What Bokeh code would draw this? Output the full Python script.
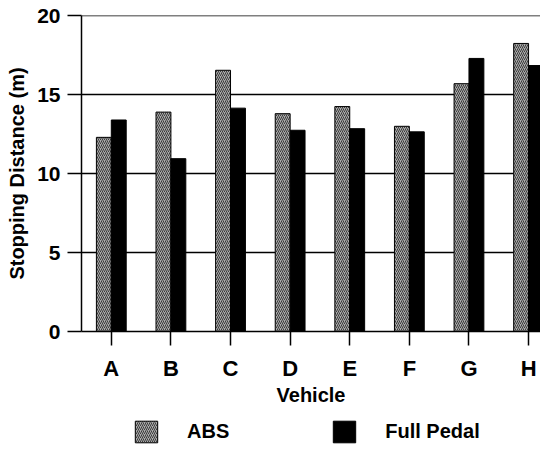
from bokeh.plotting import figure
from bokeh.layouts import column
from bokeh.models import Range1d, FixedTicker, Legend, LegendItem
from bokeh.embed import file_html
from bokeh.resources import INLINE

vehicles = ["A", "B", "C", "D", "E", "F", "G", "H"]
abs_vals = [12.3, 13.9, 16.55, 13.8, 14.25, 13.0, 15.7, 18.25]
full_vals = [13.4, 10.95, 14.15, 12.75, 12.85, 12.65, 17.3, 16.85]
y_ticks = [0, 5, 10, 15, 20]
series_names = ["ABS", "Full Pedal"]

FONT = "Liberation Sans"
ABS_STYLE = dict(fill_color="#ababab", hatch_pattern="right_diagonal_line",
                 hatch_color="#3a3a3a", hatch_scale=4, hatch_weight=1,
                 line_color="black", line_width=1)
FULL_STYLE = dict(fill_color="black", line_color="black", line_width=1)

centers = [i + 0.5 for i in range(len(vehicles))]
abs_x = [c - 0.125 for c in centers]
full_x = [c + 0.125 for c in centers]

W = 540
H_MAIN = 410
LEFT = 81
p = figure(width=W, height=H_MAIN, output_backend="svg", toolbar_location=None,
           x_range=Range1d(0, 7.70), y_range=Range1d(0, 20.02),
           min_border_left=LEFT, min_border_right=0, min_border_top=15,
           min_border_bottom=H_MAIN - 331, outline_line_color=None,
           background_fill_color="white", border_fill_color="white")

p.vbar(x=abs_x, top=abs_vals, width=0.25, bottom=0, **ABS_STYLE)
p.vbar(x=full_x, top=full_vals, width=0.25, bottom=0, **FULL_STYLE)

# axes
p.xaxis.ticker = FixedTicker(ticks=centers)
p.xaxis.major_label_overrides = {c: v for c, v in zip(centers, vehicles)}
p.yaxis.ticker = FixedTicker(ticks=y_ticks)
p.xaxis.axis_label = "Vehicle"
p.yaxis.axis_label = "Stopping Distance (m)"

for ax in (p.xaxis, p.yaxis):
    ax.axis_line_color = "black"
    ax.axis_line_width = 1.5
    ax.major_tick_line_color = "black"
    ax.major_tick_line_width = 1.5
    ax.major_tick_out = 14
    ax.major_tick_in = 0
    ax.minor_tick_line_color = None
    ax.major_label_text_font = FONT
    ax.major_label_text_font_style = "bold"
    ax.major_label_text_color = "black"
    ax.axis_label_text_font = FONT
    ax.axis_label_text_font_style = "bold"
    ax.axis_label_text_color = "black"

p.xaxis.major_label_text_font_size = "22px"
p.xaxis.major_label_standoff = 10
p.xaxis.axis_label_text_font_size = "20px"
p.xaxis.axis_label_standoff = 0
p.yaxis.major_label_text_font_size = "21px"
p.yaxis.major_label_standoff = 7
p.yaxis.axis_label_text_font_size = "20px"
p.yaxis.axis_label_standoff = 6

p.xgrid.grid_line_color = None
p.ygrid.ticker = FixedTicker(ticks=y_ticks[1:])
p.ygrid.grid_line_color = "black"
p.ygrid.grid_line_width = 1.5

# legend strip below the chart
H_LEG = 447 - H_MAIN
pl = figure(width=W, height=H_LEG, output_backend="svg", toolbar_location=None,
            x_range=Range1d(0, 1), y_range=Range1d(0, 1),
            x_axis_type=None, y_axis_type=None,
            min_border_left=LEFT, min_border_right=0, min_border_top=0,
            min_border_bottom=0,
            outline_line_color=None, background_fill_color="white",
            border_fill_color="white")
pl.grid.grid_line_color = None
# dummy bars placed outside the visible range: only give the legend its swatches
r_abs = pl.vbar(x=[0.5], bottom=[-6], top=[-5], width=0.1, **ABS_STYLE)
r_full = pl.vbar(x=[0.5], bottom=[-6], top=[-5], width=0.1, **FULL_STYLE)

legend = Legend(items=[LegendItem(label=series_names[0], renderers=[r_abs]),
                       LegendItem(label=series_names[1], renderers=[r_full])],
                orientation="horizontal", location=(51, 2),
                glyph_width=28, glyph_height=27, label_standoff=27,
                spacing=101, padding=0, margin=0,
                border_line_color=None, background_fill_alpha=0,
                label_text_font=FONT, label_text_font_style="bold",
                label_text_font_size="20px", label_text_color="black")
pl.add_layout(legend, "center")

layout = column(p, pl, spacing=0)
open("out.html", "w").write(file_html(layout, INLINE))
